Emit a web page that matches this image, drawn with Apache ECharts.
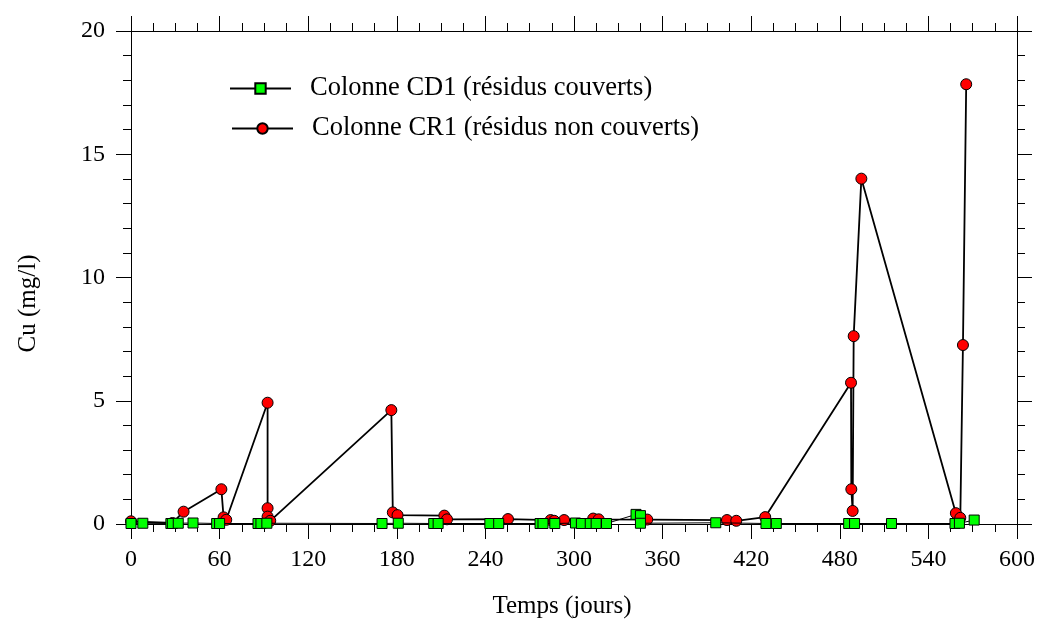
<!DOCTYPE html>
<html>
<head>
<meta charset="utf-8">
<script src="https://cdn.jsdelivr.net/npm/echarts@6/dist/echarts.min.js"></script>
<style>
html,body{margin:0;padding:0;background:#fff;}
#chart{width:1043px;height:628px;}
</style>
</head>
<body>
<div id="chart"></div>
<script>
// ---- data ----
const seriesNames = ['Colonne CD1 (résidus couverts)', 'Colonne CR1 (résidus non couverts)'];
const xTitle = 'Temps (jours)';
const yTitle = 'Cu (mg/l)';
const xTicks = [0, 60, 120, 180, 240, 300, 360, 420, 480, 540, 600];
const yTicks = [0, 5, 10, 15, 20];

const cd1Days = [0, 8, 27, 28, 32, 42, 58, 60, 86, 88, 92, 170, 181, 205, 208, 243, 249, 277, 279, 287,
  301, 305, 311, 315, 322, 342, 345, 345, 396, 430, 437, 486, 490, 515, 558, 561, 571];
const cd1Cu = [0.02, 0.03, 0.02, 0.02, 0.03, 0.04, 0.02, 0.02, 0.02, 0.02, 0.03, 0.02, 0.03, 0.02, 0.02, 0.02, 0.02, 0.02, 0.02, 0.02,
  0.04, 0.02, 0.02, 0.02, 0.02, 0.39, 0.34, 0.03, 0.05, 0.02, 0.02, 0.02, 0.02, 0.02, 0.02, 0.03, 0.16];

const cr1Days = [0, 28, 35.6, 61.2, 62.7, 64.5, 92.5, 92.5, 92.5, 94.3, 176.3, 177.3, 180.5, 212.2, 214,
  255.3, 284.2, 286.6, 293.3, 313, 316.7, 349.6, 403.6, 409.9, 429.5, 487.6, 487.8, 488.7, 489.4, 494.6,
  558.6, 561.6, 563.4, 565.6];
const cr1Cu = [0.11, 0.04, 0.5, 1.41, 0.27, 0.17, 4.92, 0.64, 0.3, 0.13, 4.62, 0.47, 0.36, 0.34, 0.19,
  0.2, 0.16, 0.13, 0.16, 0.22, 0.19, 0.18, 0.16, 0.13, 0.28, 5.73, 1.41, 0.53, 7.62, 14.01,
  0.44, 0.25, 7.26, 17.84];

const cd1 = cd1Days.map((d, i) => [d, cd1Cu[i]]);
const cr1 = cr1Days.map((d, i) => [d, cr1Cu[i]]);

const FONT = 'Liberation Serif';
const black = '#000';

function xAxisBase(pos, showLabel) {
  return {
    type: 'value', position: pos, min: xTicks[0], max: xTicks[xTicks.length - 1],
    interval: xTicks[1] - xTicks[0],
    axisLine: { show: true, onZero: false, lineStyle: { color: black, width: 1 } },
    axisTick: { show: true, inside: false, length: 15, lineStyle: { color: black } },
    minorTick: { show: true, splitNumber: 4, length: 8, lineStyle: { color: black } },
    splitLine: { show: false },
    axisLabel: { show: showLabel, margin: 24, color: black, fontFamily: FONT, fontSize: 24 }
  };
}
function yAxisBase(pos, showLabel) {
  return {
    type: 'value', position: pos, min: yTicks[0], max: yTicks[yTicks.length - 1],
    interval: yTicks[1] - yTicks[0],
    axisLine: { show: true, onZero: false, lineStyle: { color: black, width: 1 } },
    axisTick: { show: true, inside: false, length: 15, lineStyle: { color: black } },
    minorTick: { show: true, splitNumber: 5, length: 8, lineStyle: { color: black } },
    splitLine: { show: false },
    axisLabel: { show: showLabel, margin: 26, color: black, fontFamily: FONT, fontSize: 24 }
  };
}

const xBottom = Object.assign(xAxisBase('bottom', true), {
  name: xTitle, nameLocation: 'middle', nameGap: 70,
  nameTextStyle: { color: black, fontFamily: FONT, fontSize: 25, padding: [0, 24, 0, 0] }
});
const yLeft = Object.assign(yAxisBase('left', true), {
  name: yTitle, nameLocation: 'middle', nameGap: 90, nameRotate: 90,
  nameTextStyle: { color: black, fontFamily: FONT, fontSize: 25, padding: [0, 52, 0, 0] }
});

const legendCommon = {
  orient: 'vertical', itemWidth: 61, itemHeight: 13, padding: 0,
  textStyle: { color: black, fontFamily: FONT, fontSize: 26.5, padding: [0, 0, 0, 14] }
};

const chart = echarts.init(document.getElementById('chart'), null, { renderer: 'canvas' });
chart.setOption({
  animation: false,
  backgroundColor: '#fff',
  grid: { left: 131, right: 26, top: 31, bottom: 104, containLabel: false },
  xAxis: [xBottom, xAxisBase('top', false)],
  yAxis: [yLeft, yAxisBase('right', false)],
  legend: [
    Object.assign({ data: [seriesNames[0]], left: 229, top: 75 }, legendCommon),
    Object.assign({ data: [seriesNames[1]], left: 231, top: 115 }, legendCommon)
  ],
  series: [
    {
      name: seriesNames[1], type: 'line', data: cr1, z: 2,
      symbol: 'circle', symbolSize: 11, showSymbol: true,
      lineStyle: { color: black, width: 1.8 },
      itemStyle: { color: '#ff0000', borderColor: black, borderWidth: 1 }
    },
    {
      name: seriesNames[0], type: 'line', data: cd1, z: 3,
      symbol: 'rect', symbolSize: 10, showSymbol: true,
      lineStyle: { color: black, width: 1 },
      itemStyle: { color: '#00ff00', borderColor: black, borderWidth: 1 }
    }
  ]
});
</script>
</body>
</html>
